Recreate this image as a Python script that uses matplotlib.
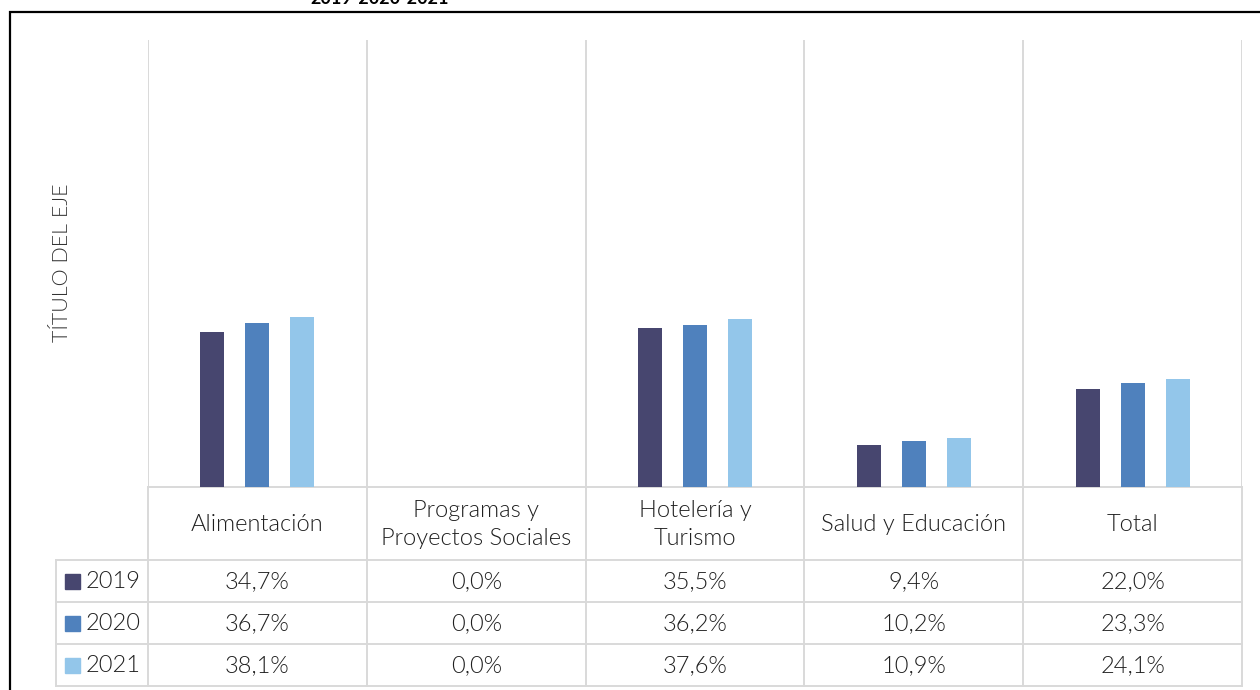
import matplotlib
matplotlib.use("Agg")
import matplotlib.pyplot as plt
from matplotlib.patches import Rectangle

# ---- data ----
categories = ["Alimentación", "Programas y\nProyectos Sociales", "Hotelería y\nTurismo",
              "Salud y Educación", "Total"]
years = ["2019", "2020", "2021"]
v2019 = [34.7, 0.0, 35.5, 9.4, 22.0]
v2020 = [36.7, 0.0, 36.2, 10.2, 23.3]
v2021 = [38.1, 0.0, 37.6, 10.9, 24.1]
series = [v2019, v2020, v2021]
colors = ["#47466f", "#4f81bd", "#93c6ea"]
title = "2019-2020-2021"
y_title = "TÍTULO DEL EJE"

W, H = 1260, 690
FONT = ["Lato", "DejaVu Sans"]
TXT = "#1f1f1f"
GRID = "#d9d9d9"
WEIGHT = 300

plt.rcParams["font.family"] = FONT

fig = plt.figure(figsize=(W / 100, H / 100), dpi=100)
fig.patch.set_facecolor("white")

# plot area in pixel coordinates
px_left, px_right, px_top, px_base = 148, 1242, 40, 487
ax = fig.add_axes([px_left / W, (H - px_base) / H,
                   (px_right - px_left) / W, (px_base - px_top) / H])
n = len(categories)
ax.set_xlim(-0.5, n - 0.5)
ax.set_ylim(0, 100)
step = 0.2057
bw = 0.11
for i, (vals, col) in enumerate(zip(series, colors)):
    xs = [c + (i - 1) * step for c in range(n)]
    ax.bar(xs, vals, width=bw, color=col, zorder=3)
for b in [k - 0.5 for k in range(n + 1)]:
    ax.axvline(b, color=GRID, lw=1.4, zorder=1)
ax.set_xticks([])
ax.set_yticks([])
for s in ax.spines.values():
    s.set_visible(False)
ax.patch.set_alpha(0)

# overlay in pixel units for the data table, frame and labels
ov = fig.add_axes([0, 0, 1, 1], zorder=-1)
ov.set_xlim(0, W)
ov.set_ylim(H, 0)
ov.axis("off")

col_w = (px_right - px_left) / n
col_edges = [px_left + k * col_w for k in range(n + 1)]
row_edges = [487, 560, 602, 644, 686]
leg_left = 56

# horizontal table lines
ov.plot([px_left, px_right], [row_edges[0]] * 2, color=GRID, lw=1.4)
for y in row_edges[1:]:
    ov.plot([leg_left, px_right], [y, y], color=GRID, lw=1.4)
# vertical table lines
for x in col_edges:
    ov.plot([x, x], [row_edges[0], row_edges[-1]], color=GRID, lw=1.4)
ov.plot([leg_left, leg_left], [row_edges[1], row_edges[-1]], color=GRID, lw=1.4)

fs = 17
centers = [(col_edges[k] + col_edges[k + 1]) / 2 for k in range(n)]
for cx, lab in zip(centers, categories):
    ov.text(cx, (row_edges[0] + row_edges[1]) / 2 + 1, lab, ha="center", va="center",
            fontsize=fs, color=TXT, linespacing=1.45, fontweight=WEIGHT)

for r, (yr, vals, col) in enumerate(zip(years, series, colors)):
    yc = (row_edges[r + 1] + row_edges[r + 2]) / 2
    ov.add_patch(Rectangle((65, yc - 7.5), 15, 15, color=col))
    ov.text(86, yc + 1, yr, ha="left", va="center", fontsize=fs, color=TXT,
            fontweight=WEIGHT)
    for cx, v in zip(centers, vals):
        ov.text(cx, yc + 1, f"{v:.1f}%".replace(".", ","), ha="center", va="center",
                fontsize=fs, color=TXT, fontweight=WEIGHT)

# axis title
ov.text(62, 263, y_title, rotation=90, ha="center", va="center",
        fontsize=15.5, color="#333333", fontweight=WEIGHT)

# outer chart frame
ov.plot([9.5, 9.5, W + 5], [H + 5, 11.5, 11.5], color="black", lw=1.6,
        solid_joinstyle="miter", clip_on=False)

# chart title, mostly above the top edge
fig.text(380 / W, 1 - 3.5 / H, title, ha="center", va="baseline",
         fontsize=13, fontweight="bold", color="black")

fig.savefig("out.png", dpi=100, facecolor="white")
